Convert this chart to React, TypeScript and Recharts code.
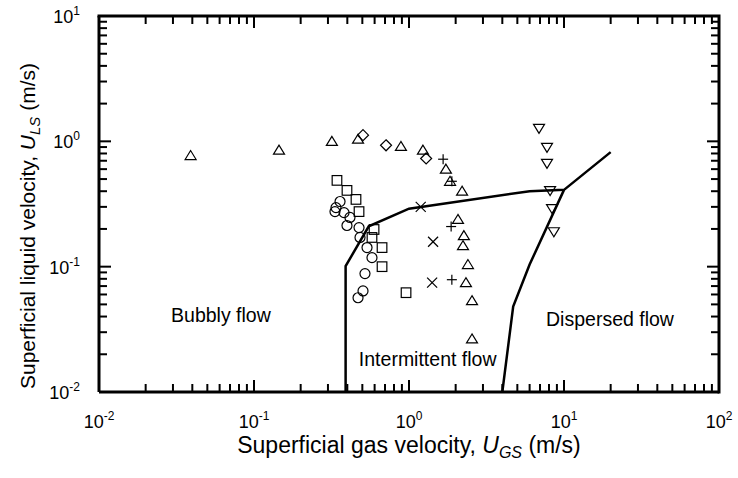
import React from 'react';
import { ScatterChart, Scatter, XAxis, YAxis } from 'recharts';

const FONT = '"Liberation Sans", Arial, Helvetica, sans-serif';

// ---- axis ticks ----
const xMajorTicks = [0.01, 0.1, 1, 10, 100];
const xTickExponents = ['-2', '-1', '0', '1', '2'];
const yMajorTicks = [0.01, 0.1, 1, 10];
const yTickExponents = ['-2', '-1', '0', '1'];
const minorMultipliers = [2, 3, 4, 5, 6, 7, 8, 9];
const X_MIN = 0.01;
const X_MAX = 100;
const Y_MIN = 0.01;
const Y_MAX = 10;

// ---- data series (U_GS, U_LS) ----
const triangleUp = [
  { x: 0.039, y: 0.77 }, { x: 0.145, y: 0.85 }, { x: 0.318, y: 1.0 }, { x: 0.469, y: 1.04 },
  { x: 0.887, y: 0.91 }, { x: 1.23, y: 0.85 }, { x: 1.73, y: 0.6 }, { x: 1.84, y: 0.48 },
  { x: 2.2, y: 0.4 }, { x: 2.07, y: 0.238 }, { x: 2.26, y: 0.177 }, { x: 2.23, y: 0.147 },
  { x: 2.4, y: 0.104 }, { x: 2.33, y: 0.0745 }, { x: 2.55, y: 0.0535 }, { x: 2.55, y: 0.0265 },
];
const diamonds = [
  { x: 0.505, y: 1.12 }, { x: 0.711, y: 0.93 }, { x: 1.29, y: 0.73 },
];
const pluses = [
  { x: 1.66, y: 0.72 }, { x: 1.89, y: 0.48 }, { x: 1.87, y: 0.209 }, { x: 1.89, y: 0.0787 },
];
const crosses = [
  { x: 1.19, y: 0.3 }, { x: 1.43, y: 0.158 }, { x: 1.41, y: 0.0745 },
];
const squares = [
  { x: 0.343, y: 0.488 }, { x: 0.398, y: 0.406 }, { x: 0.455, y: 0.344 }, { x: 0.476, y: 0.275 },
  { x: 0.595, y: 0.198 }, { x: 0.577, y: 0.171 }, { x: 0.67, y: 0.142 }, { x: 0.67, y: 0.1 },
  { x: 0.957, y: 0.062 },
];
const circles = [
  { x: 0.359, y: 0.331 }, { x: 0.338, y: 0.296 }, { x: 0.333, y: 0.275 }, { x: 0.381, y: 0.27 },
  { x: 0.416, y: 0.247 }, { x: 0.398, y: 0.213 }, { x: 0.476, y: 0.205 }, { x: 0.483, y: 0.171 },
  { x: 0.536, y: 0.142 }, { x: 0.577, y: 0.118 }, { x: 0.52, y: 0.088 }, { x: 0.505, y: 0.064 },
  { x: 0.469, y: 0.0565 },
];
const triangleDown = [
  { x: 6.9, y: 1.27 }, { x: 7.77, y: 0.895 }, { x: 7.77, y: 0.667 }, { x: 8.13, y: 0.405 },
  { x: 8.37, y: 0.291 }, { x: 8.6, y: 0.19 },
];

// ---- flow-regime boundaries ----
const boundaryUpper = [
  { x: 0.39, y: 0.01 }, { x: 0.39, y: 0.101 }, { x: 0.55, y: 0.21 }, { x: 1.0, y: 0.29 },
  { x: 6.0, y: 0.4 }, { x: 10, y: 0.41 }, { x: 20, y: 0.82 },
];
const boundaryRight = [
  { x: 4.0, y: 0.01 }, { x: 4.7, y: 0.048 }, { x: 6.0, y: 0.104 }, { x: 10, y: 0.41 },
];

// ---- region labels ----
const regionBubbly = [{ x: 0.0612, y: 0.041 }];
const regionIntermittent = [{ x: 1.32, y: 0.0183 }];
const regionDispersed = [{ x: 19.8, y: 0.0386 }];

const buildMinor = (majors: number[]) => {
  const out: number[] = [];
  majors.forEach((m, i) => {
    if (i < majors.length - 1) minorMultipliers.forEach((k) => out.push(m * k));
  });
  return out;
};
const xMinorTicks = buildMinor(xMajorTicks);
const yMinorTicks = buildMinor(yMajorTicks);

// frame (top and right edges) and tick-mark anchors, all placed through the chart scales
const frameTopRight = [
  { x: X_MIN, y: Y_MAX }, { x: X_MAX, y: Y_MAX }, { x: X_MAX, y: Y_MIN },
];
const bottomMajor = xMajorTicks.map((x) => ({ x, y: Y_MIN }));
const bottomMinor = xMinorTicks.map((x) => ({ x, y: Y_MIN }));
const topMajor = xMajorTicks.map((x) => ({ x, y: Y_MAX }));
const topMinor = xMinorTicks.map((x) => ({ x, y: Y_MAX }));
const leftMajor = yMajorTicks.map((y) => ({ x: X_MIN, y }));
const leftMinor = yMinorTicks.map((y) => ({ x: X_MIN, y }));
const rightMajor = yMajorTicks.map((y) => ({ x: X_MAX, y }));
const rightMinor = yMinorTicks.map((y) => ({ x: X_MAX, y }));

const TICK_W = 2;
const tickShape = (side: string, len: number) => (props: any) => {
  const { cx, cy } = props;
  if (cx == null || cy == null) return <g />;
  let d = '';
  if (side === 'bottom') d = `M${cx},${cy}L${cx},${cy - len}`;
  else if (side === 'top') d = `M${cx},${cy}L${cx},${cy + len}`;
  else if (side === 'left') d = `M${cx},${cy}L${cx + len},${cy}`;
  else d = `M${cx},${cy}L${cx - len},${cy}`;
  return <path d={d} stroke="#000" strokeWidth={TICK_W} fill="none" />;
};

const XLabelTick = (props: any) => {
  const x = Number(props.x);
  const y = Number(props.y);
  const idx = xMajorTicks.indexOf(props.payload ? props.payload.value : NaN);
  if (idx < 0) return <g />;
  return (
    <text x={x} y={y + 36} textAnchor="middle" fontFamily={FONT} fontSize={18} fill="#000" stroke="none">
      <tspan>10</tspan>
      <tspan dy={-8} fontSize={12}>{xTickExponents[idx]}</tspan>
    </text>
  );
};

const YLabelTick = (props: any) => {
  const x = Number(props.x);
  const y = Number(props.y);
  const idx = yMajorTicks.indexOf(props.payload ? props.payload.value : NaN);
  if (idx < 0) return <g />;
  return (
    <text x={x - 19} y={y + 7} textAnchor="end" fontFamily={FONT} fontSize={18} fill="#000" stroke="none">
      <tspan>10</tspan>
      <tspan dy={-8} fontSize={12}>{yTickExponents[idx]}</tspan>
    </text>
  );
};

const XTitle = (props: any) => {
  const vb = props.viewBox || {};
  const cx = vb.x + vb.width / 2;
  return (
    <text x={cx} y={vb.y + 61} textAnchor="middle" fontFamily={FONT} fontSize={23} fill="#000">
      <tspan>Superficial gas velocity, </tspan>
      <tspan fontStyle="italic">U</tspan>
      <tspan fontStyle="italic" fontSize={16} dy={5}>GS</tspan>
      <tspan dy={-5}> (m/s)</tspan>
    </text>
  );
};

const YTitle = (props: any) => {
  const vb = props.viewBox || {};
  const cy = vb.y + vb.height / 2 + 22;
  const cx = 35;
  return (
    <text x={cx} y={cy} transform={`rotate(-90, ${cx}, ${cy})`} textAnchor="middle" fontFamily={FONT} fontSize={21} fill="#000">
      <tspan>Superficial liquid velocity, </tspan>
      <tspan fontStyle="italic">U</tspan>
      <tspan fontStyle="italic" fontSize={15} dy={5}>LS</tspan>
      <tspan dy={-5}> (m/s)</tspan>
    </text>
  );
};

const SW = 1.2;
const marker = (kind: string) => (props: any) => {
  const { cx, cy } = props;
  if (cx == null || cy == null) return <g />;
  const common = { fill: 'none', stroke: '#000', strokeWidth: SW };
  switch (kind) {
    case 'triUp':
      return <polygon points={`${cx},${cy - 5} ${cx - 5.5},${cy + 4} ${cx + 5.5},${cy + 4}`} {...common} />;
    case 'triDown':
      return <polygon points={`${cx},${cy + 5} ${cx - 5.5},${cy - 4} ${cx + 5.5},${cy - 4}`} {...common} />;
    case 'diamond':
      return <polygon points={`${cx},${cy - 5.5} ${cx + 5.5},${cy} ${cx},${cy + 5.5} ${cx - 5.5},${cy}`} {...common} />;
    case 'square':
      return <rect x={cx - 4.8} y={cy - 4.8} width={9.6} height={9.6} {...common} />;
    case 'circle':
      return <circle cx={cx} cy={cy} r={5} {...common} />;
    case 'plus':
      return (
        <g {...common}>
          <line x1={cx - 5} x2={cx + 5} y1={cy} y2={cy} />
          <line x1={cx} x2={cx} y1={cy - 5} y2={cy + 5} />
        </g>
      );
    case 'cross':
      return (
        <g {...common}>
          <line x1={cx - 5} x2={cx + 5} y1={cy - 5} y2={cy + 5} />
          <line x1={cx - 5} x2={cx + 5} y1={cy + 5} y2={cy - 5} />
        </g>
      );
    default:
      return <g />;
  }
};

const textShape = (text: string) => (props: any) => {
  const { cx, cy } = props;
  if (cx == null || cy == null) return <g />;
  return (
    <text x={cx} y={cy} dy="0.36em" textAnchor="middle" fontFamily={FONT} fontSize={19.5} fill="#000">
      {text}
    </text>
  );
};

const noShape = () => <g />;

export default function App() {
  const axisLine = { stroke: '#000', strokeWidth: 3 };
  return (
    <div style={{ position: 'absolute', left: 0, top: 0, width: 738, height: 478, background: '#fff' }}>
      <ScatterChart width={738} height={478} margin={{ top: 16, right: 19, bottom: 6, left: 8 }}>
        <XAxis
          dataKey="x"
          type="number"
          scale="log"
          domain={[X_MIN, X_MAX]}
          ticks={xMajorTicks}
          interval={0}
          tickSize={0}
          tickMargin={0}
          tickLine={false}
          axisLine={axisLine}
          tick={XLabelTick}
          height={80}
          label={XTitle}
        />
        <YAxis
          dataKey="y"
          type="number"
          scale="log"
          domain={[Y_MIN, Y_MAX]}
          ticks={yMajorTicks}
          interval={0}
          tickSize={0}
          tickMargin={0}
          tickLine={false}
          axisLine={axisLine}
          tick={YLabelTick}
          width={91}
          label={YTitle}
        />
        <Scatter data={frameTopRight} line={{ stroke: '#000', strokeWidth: 3, strokeLinecap: 'square' }} lineType="joint" shape={noShape} isAnimationActive={false} />
        <Scatter data={bottomMajor} shape={tickShape('bottom', 12)} isAnimationActive={false} />
        <Scatter data={bottomMinor} shape={tickShape('bottom', 8)} isAnimationActive={false} />
        <Scatter data={topMajor} shape={tickShape('top', 12)} isAnimationActive={false} />
        <Scatter data={topMinor} shape={tickShape('top', 8)} isAnimationActive={false} />
        <Scatter data={leftMajor} shape={tickShape('left', 12)} isAnimationActive={false} />
        <Scatter data={leftMinor} shape={tickShape('left', 8)} isAnimationActive={false} />
        <Scatter data={rightMajor} shape={tickShape('right', 12)} isAnimationActive={false} />
        <Scatter data={rightMinor} shape={tickShape('right', 8)} isAnimationActive={false} />
        <Scatter data={boundaryUpper} line={{ stroke: '#000', strokeWidth: 2.5 }} lineType="joint" shape={noShape} isAnimationActive={false} />
        <Scatter data={boundaryRight} line={{ stroke: '#000', strokeWidth: 2.5 }} lineType="joint" shape={noShape} isAnimationActive={false} />
        <Scatter data={triangleUp} shape={marker('triUp')} isAnimationActive={false} />
        <Scatter data={diamonds} shape={marker('diamond')} isAnimationActive={false} />
        <Scatter data={pluses} shape={marker('plus')} isAnimationActive={false} />
        <Scatter data={crosses} shape={marker('cross')} isAnimationActive={false} />
        <Scatter data={squares} shape={marker('square')} isAnimationActive={false} />
        <Scatter data={circles} shape={marker('circle')} isAnimationActive={false} />
        <Scatter data={triangleDown} shape={marker('triDown')} isAnimationActive={false} />
        <Scatter data={regionBubbly} shape={textShape('Bubbly flow')} isAnimationActive={false} />
        <Scatter data={regionIntermittent} shape={textShape('Intermittent flow')} isAnimationActive={false} />
        <Scatter data={regionDispersed} shape={textShape('Dispersed flow')} isAnimationActive={false} />
      </ScatterChart>
    </div>
  );
}
